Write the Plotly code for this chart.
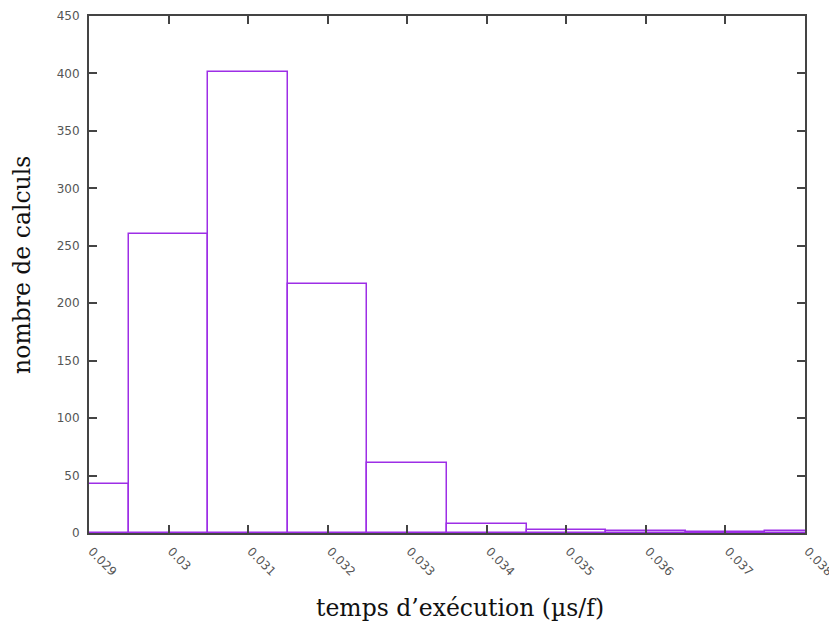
import plotly.graph_objects as go

# histogram bins (centre of each bin, width 0.001)
centres = [0.029, 0.030, 0.031, 0.032, 0.033, 0.034, 0.035, 0.036, 0.037, 0.038]
counts = [43, 260, 401, 217, 61, 8, 3, 2, 1, 2]
tick_vals = [0.029, 0.030, 0.031, 0.032, 0.033, 0.034, 0.035, 0.036, 0.037, 0.038]
tick_text = ["0.029", "0.03", "0.031", "0.032", "0.033", "0.034", "0.035", "0.036", "0.037", "0.038"]

violet = "#9d2ee6"
serif = "DejaVu Serif"

bars = go.Bar(x=centres, y=counts,
              width=0.001,
              marker=dict(color="rgba(255,255,255,0)",
                          line=dict(color=violet, width=1.5)),
              showlegend=False)

# page body has an 8px margin, so the figure is shifted by 8px
layout = go.Layout(width=829, height=620,
                   paper_bgcolor="white",
                   plot_bgcolor="white",
                   margin=dict(l=81, r=32, t=8, b=95),
                   xaxis=dict(range=[0.029, 0.038],
                              tickvals=tick_vals,
                              ticktext=["\u00a0" + t for t in tick_text],
                              tickangle=45,
                              ticks="inside",
                              ticklen=8,
                              tickcolor="#444",
                              tickwidth=1.5,
                              showline=True,
                              linecolor="#444",
                              linewidth=2,
                              mirror="ticks",
                              showgrid=False,
                              zeroline=False,
                              automargin=False,
                              ticklabelstandoff=2,
                              tickfont=dict(family="DejaVu Sans", size=12, color="#555")),
                   yaxis=dict(range=[0, 450],
                              dtick=50,
                              ticks="inside",
                              ticklen=8,
                              tickcolor="#444",
                              tickwidth=1.5,
                              showline=True,
                              linecolor="#444",
                              linewidth=2,
                              mirror="ticks",
                              showgrid=False,
                              zeroline=False,
                              automargin=False,
                              ticklabelstandoff=5,
                              tickfont=dict(family="DejaVu Sans", size=12, color="#555")),
                   annotations=[
                       dict(text="temps d\u2019exécution (µs/f)",
                            xref="paper", yref="paper", x=0.518, y=-0.145,
                            xanchor="center", yanchor="middle", showarrow=False,
                            font=dict(family=serif, size=23.5, color="#111")),
                       dict(text="nombre de calculs",
                            xref="paper", yref="paper", x=-0.094, y=0.518,
                            xanchor="center", yanchor="middle", showarrow=False,
                            textangle=-90,
                            font=dict(family=serif, size=23.5, color="#111")),
                   ],
                   bargap=0)

fig = go.Figure(data=[bars], layout=layout)
fig.write_html("out.html")
